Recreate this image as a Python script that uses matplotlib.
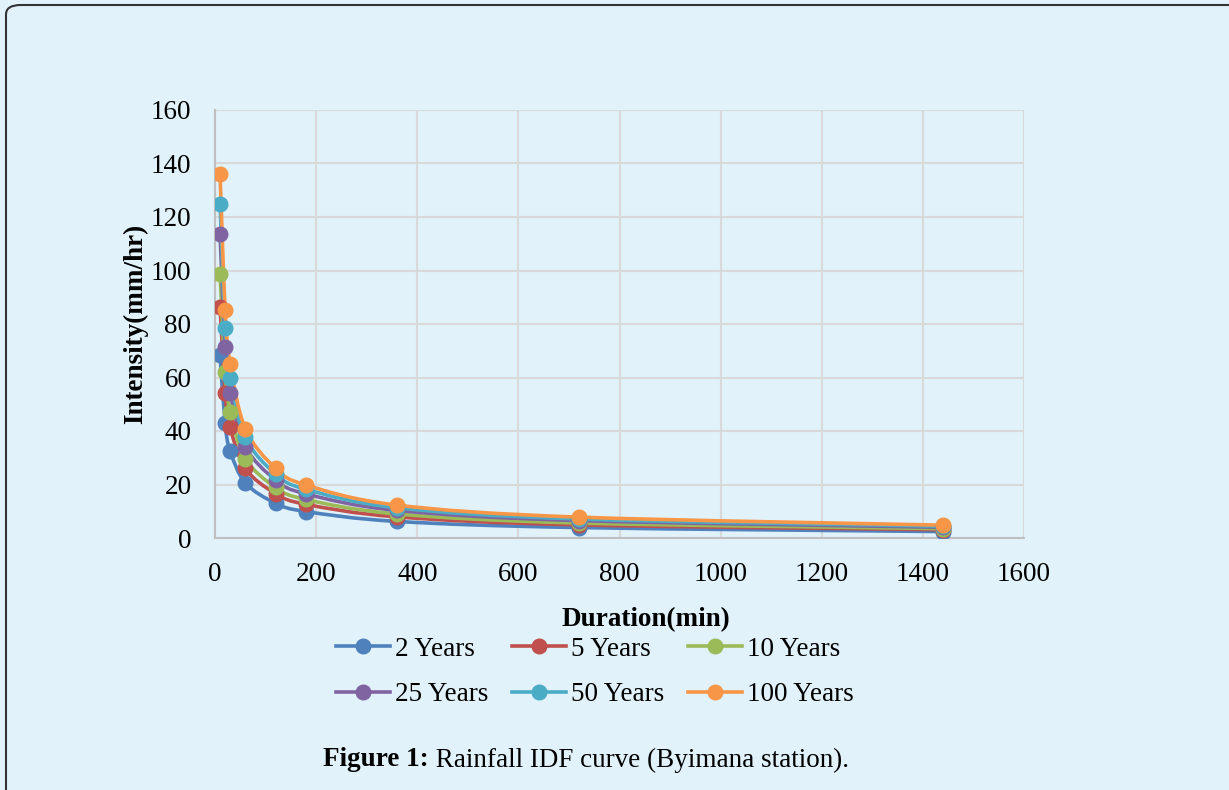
import numpy as np
import matplotlib.pyplot as plt
from matplotlib.patches import FancyBboxPatch, PathPatch
from matplotlib.path import Path
from matplotlib.lines import Line2D

# durations (min) and rainfall intensity (mm/hr) per return period
duration = [10, 20, 30, 60, 120, 180, 360, 720, 1440]
i_2yr = [68.3, 43.0, 32.5, 20.6, 13.0, 9.9, 6.2, 3.9, 2.4]
i_5yr = [86.5, 54.3, 41.4, 26.0, 16.6, 12.6, 7.9, 4.9, 3.1]
i_10yr = [98.6, 62.0, 47.2, 29.7, 18.9, 14.4, 9.0, 5.6, 3.5]
i_25yr = [113.6, 71.3, 54.3, 34.2, 21.7, 16.5, 10.3, 6.5, 4.0]
i_50yr = [125.0, 78.5, 59.8, 37.6, 23.9, 18.2, 11.3, 7.1, 4.4]
i_100yr = [136.0, 85.3, 65.1, 40.9, 26.0, 19.8, 12.3, 7.8, 4.8]
labels = ["2 Years", "5 Years", "10 Years", "25 Years", "50 Years", "100 Years"]
colors = ["#4F81BD", "#C0504D", "#9BBB59", "#8064A2", "#4BACC6", "#F79646"]

bg = "#E1F2FB"
fs = 19.5
plt.rcParams['font.family'] = ['Liberation Serif', 'DejaVu Serif']


def smooth_path(x, y):
    # cubic bezier through every point (catmull-rom style tangents)
    p = np.column_stack([x, y]).astype(float)
    n = len(p)
    verts = [p[0]]
    codes = [Path.MOVETO]
    for i in range(n - 1):
        p0 = p[i - 1] if i > 0 else p[i]
        p3 = p[i + 2] if i + 2 < n else p[i + 1]
        c1 = p[i] + (p[i + 1] - p0) / 6
        c2 = p[i + 1] - (p3 - p[i]) / 6
        verts += [c1, c2, p[i + 1]]
        codes += [Path.CURVE4] * 3
    return Path(verts, codes)


fig = plt.figure(figsize=(12.29, 7.9), dpi=100)
fig.patch.set_facecolor(bg)

# rounded frame around the panel (runs off the right and bottom edges)
frame = FancyBboxPatch((6 / 1229, -0.1), 1.2, 1.1 - 5 / 790,
                       boxstyle="round,pad=0,rounding_size=0.012",
                       transform=fig.transFigure, facecolor="none",
                       edgecolor="#333333", linewidth=1.5)
fig.patches.append(frame)

ax = fig.add_axes([215 / 1229, 1 - 538 / 790, (1024 - 215) / 1229, (538 - 110) / 790])
ax.set_facecolor(bg)

series = [i_2yr, i_5yr, i_10yr, i_25yr, i_50yr, i_100yr]
handles = []
for vals, lab, c in zip(series, labels, colors):
    ax.add_patch(PathPatch(smooth_path(duration, vals), facecolor="none",
                           edgecolor=c, linewidth=2.6, zorder=3,
                           capstyle='round', joinstyle='round'))
    ax.plot(duration, vals, linestyle='none', marker='o', markersize=10.5,
            color=c, zorder=4)
    handles.append(Line2D([], [], color=c, linewidth=2.6, marker='o',
                          markersize=10.5, label=lab))

ax.set_xlim(0, 1600)
ax.set_ylim(0, 160)
ax.set_xticks(range(0, 1601, 200))
ax.set_yticks(range(0, 161, 20))
ax.grid(True, color="#D9D9D9", linewidth=1.5)
ax.set_axisbelow(True)
for s in ["top", "right"]:
    ax.spines[s].set_visible(False)
for s in ["left", "bottom"]:
    ax.spines[s].set_color("#BFBFBF")
    ax.spines[s].set_linewidth(1.5)
ax.tick_params(axis='x', length=0, labelsize=fs, pad=17)
ax.tick_params(axis='y', length=0, labelsize=fs, pad=17)

ax.set_ylabel("Intensity(mm/hr)", fontsize=fs, fontweight='bold', labelpad=2)
fig.text(646 / 1229, 1 - 620 / 790, "Duration(min)", fontsize=fs,
         fontweight='bold', ha='center', va='center')

# legend filled row by row: 2, 5, 10 / 25, 50, 100
order = [0, 3, 1, 4, 2, 5]
fig.legend([handles[k] for k in order], [labels[k] for k in order],
           loc='center', bbox_to_anchor=(595 / 1229, 1 - 672 / 790), ncol=3,
           frameon=False, fontsize=fs, handlelength=2.0, handletextpad=0.2,
           columnspacing=0.85, labelspacing=0.75)

t1 = fig.text(323 / 1229, 1 - 760 / 790, "Figure 1:", fontsize=fs,
              fontweight='bold', va='center', ha='left')
fig.add_artist(plt.Annotation(" Rainfall IDF curve (Byimana station).",
                              xy=(1, 0.5), xycoords=t1, fontsize=fs,
                              va='center', ha='left'))

fig.savefig("out.png", dpi=100, facecolor=bg)
